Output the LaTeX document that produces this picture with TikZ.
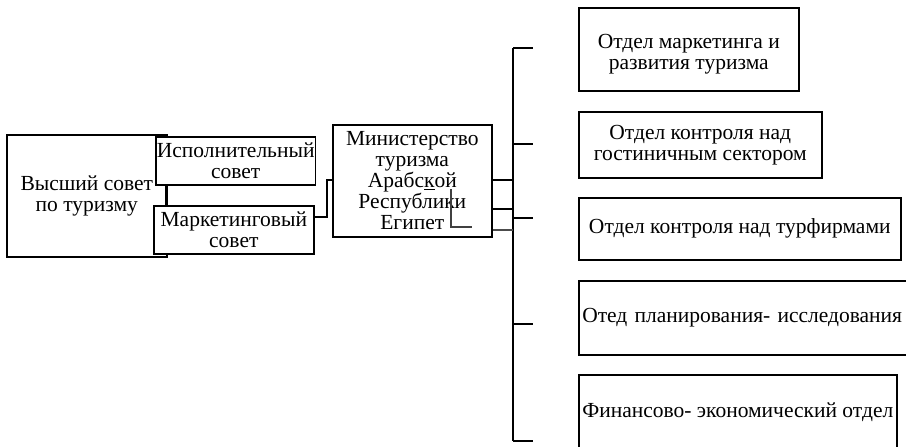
\documentclass[tikz,border=0pt]{standalone}
\usepackage{fontspec}
\setmainfont{Liberation Serif}
\begin{document}
\begin{tikzpicture}[x=1pt,y=-1pt,
  box/.style={draw,fill=white,line width=1.6pt,align=center,inner sep=1pt,anchor=north west,font=\fontsize{21.5}{21}\selectfont},
  conn/.style={line width=1.6pt},
  thin/.style={line width=1.2pt,draw=black!75}]
\clip (0,0) rectangle (906,447);
\fill[white] (0,0) rectangle (906,447);
% left group
\node[box,minimum width=160pt,minimum height=122pt] (high) at (6,134) {Высший совет\\по туризму};
\draw[conn,line width=2.4pt] (166,184) -- (166,205);
\node[box,minimum width=159pt,minimum height=48pt] (exec) at (155,136) {Исполнительный\\совет};
\node[box,minimum width=160pt,minimum height=48pt] (mark) at (153,205) {Маркетинговый\\совет};
% ministry
\node[box,minimum width=159pt,minimum height=112pt] (min) at (332,124) {Министерство\\туризма\\Арабс\underline{к}ой\\Республики\\Египет};
% departments
\node[box,minimum width=220pt,minimum height=83pt] (d1) at (578,7) {\raisebox{-5pt}[\height][\depth]{\begin{tabular}{@{}c@{}}Отдел маркетинга и\\развития туризма\end{tabular}}};
\node[box,minimum width=243pt,minimum height=66pt] (d2) at (578,111) {Отдел контроля над\\гостиничным сектором};
\node[box,minimum width=322pt,minimum height=62pt] (d3) at (578,197) {Отдел контроля над турфирмами};
\node[box,minimum width=345pt,minimum height=74pt,align=left,text width=338pt,inner xsep=2pt] (d4) at (578,280) {Отед планирования- исследования\vphantom{Ьp}\\[-4pt]};
\node[box,minimum width=318pt,minimum height=74pt] (d5) at (578,374) {Финансово- экономический отдел};
% connectors left
\coordinate (j1) at (327,217);
\coordinate (j2) at (327,180);
\draw[conn] (mark.east |- j1) -- (j1) -- (j2) -- (min.west |- j2);
% bus
\coordinate (btop) at (513,48);
\coordinate (bbot) at (513,441);
\draw[conn] (btop) -- (bbot);
\foreach \yy in {48,144,218,324,441}{
  \coordinate (t\yy) at (533,\yy);
  \draw[conn] (513,\yy) -- (t\yy);
}
\draw[conn] (min.east |- j2) -- (j2 -| btop);
\coordinate (m2) at (513,209);
\coordinate (m3) at (513,230);
\draw[conn] (min.east |- m2) -- (m2);
\draw[conn,draw=black!70] (min.east |- m3) -- (m3);
% stray line inside ministry box
\coordinate (s1) at (451,189);
\coordinate (s2) at (451,227);
\coordinate (s3) at (472,227);
\draw[thin] (s1) -- (s2) -- (s3);
\end{tikzpicture}
\end{document}
